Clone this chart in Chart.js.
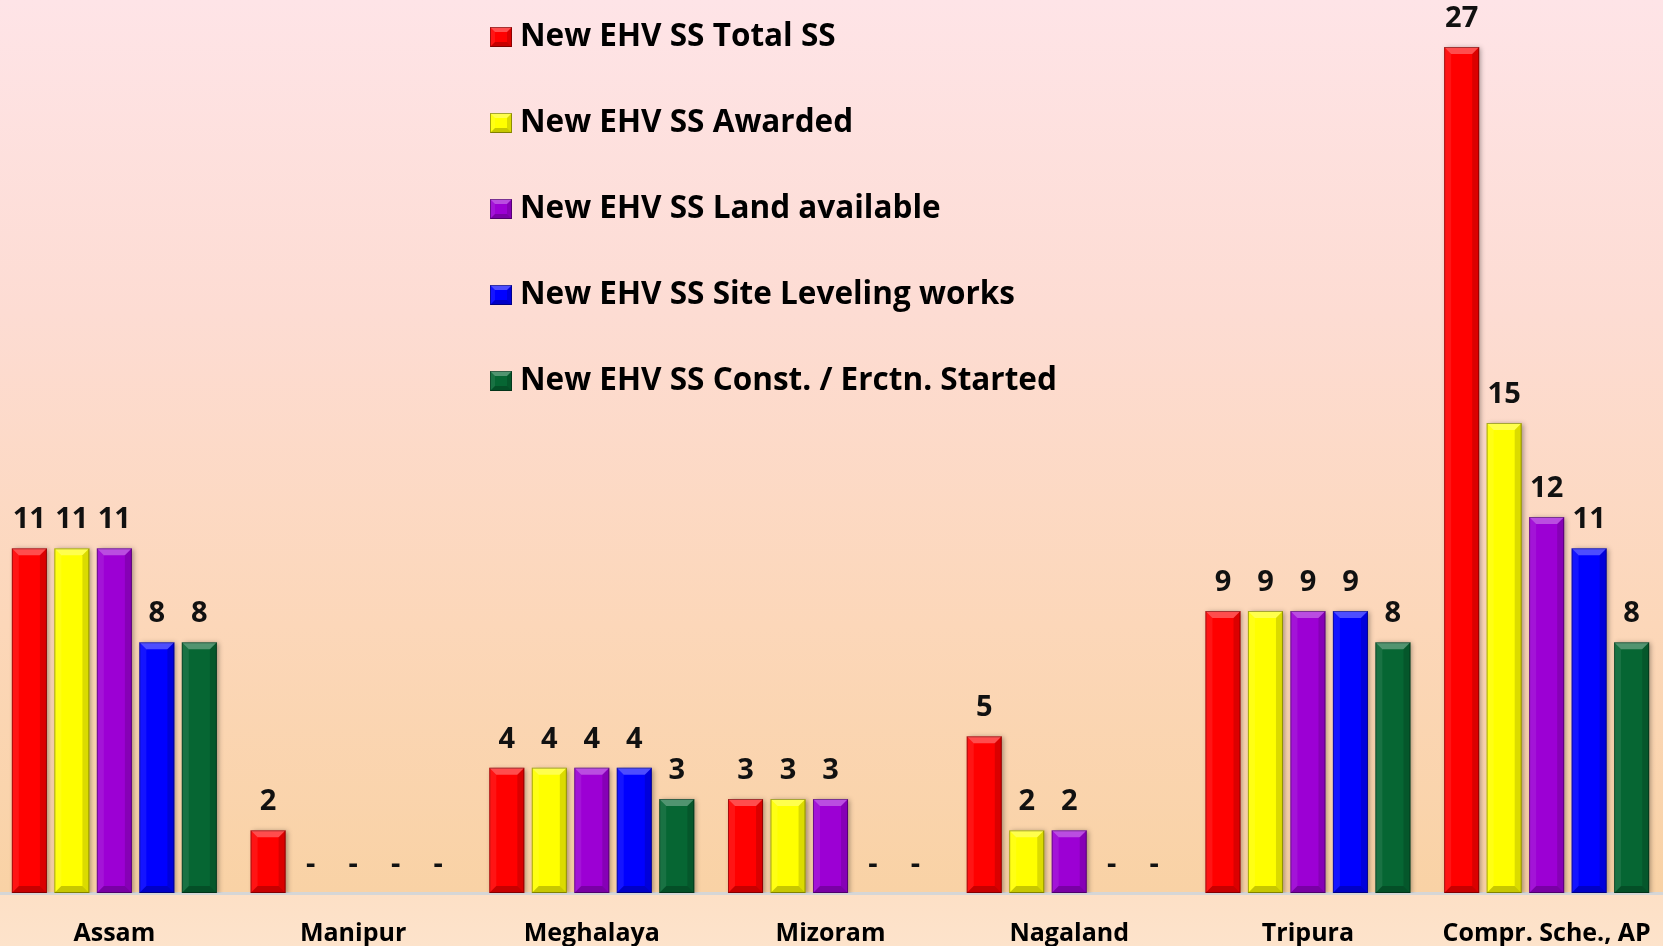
<!DOCTYPE html>
<html>
<head>
<meta charset="utf-8">
<script src="https://cdn.jsdelivr.net/npm/chart.js@4.4.1/dist/chart.umd.min.js"></script>
<style>
  html, body { margin: 0; padding: 0; }
  #wrap {
    width: 1663px; height: 946px; position: relative; overflow: hidden;
    background: linear-gradient(to bottom, #fee4e7 0%, #fddcd3 33%, #fcd7b9 66%, #f9d2a5 94.3%, #fde0c6 94.5%, #fde3cb 100%);
  }
  #inner { position: absolute; left: -5px; top: 0; width: 1671px; height: 946px; }
</style>
</head>
<body>
<div id="wrap"><div id="inner"><canvas id="chart"></canvas></div></div>
<script>
const categories = ['Assam', 'Manipur', 'Meghalaya', 'Mizoram', 'Nagaland', 'Tripura', 'Compr. Sche., AP'];
const seriesNames = [
  'New EHV SS Total SS',
  'New EHV SS Awarded',
  'New EHV SS Land available',
  'New EHV SS Site Leveling works',
  'New EHV SS Const. / Erctn. Started'
];
const totalSS       = [11, 2, 4, 3, 5, 9, 27];
const awarded       = [11, 0, 4, 3, 2, 9, 15];
const landAvailable = [11, 0, 4, 3, 2, 9, 12];
const siteLeveling  = [8, 0, 4, 0, 0, 9, 11];
const constStarted  = [8, 0, 3, 0, 0, 8, 8];
const seriesColors  = ['#ff0000', '#ffff00', '#9c00d4', '#0000ff', '#066633'];

const seriesValues = [totalSS, awarded, landAvailable, siteLeveling, constStarted];
const FONT = "'Open Sans', Lato, sans-serif";

// draws a bevelled rectangle (top light, right/bottom dark)
function bevel(ctx, l, t, r, bt, size) {
  const b = Math.min(size, (bt - t) / 2, (r - l) / 2);
  ctx.save();
  ctx.fillStyle = 'rgba(255,255,255,0.30)';
  ctx.beginPath();
  ctx.moveTo(l, t); ctx.lineTo(r, t); ctx.lineTo(r - b, t + b); ctx.lineTo(l + b, t + b);
  ctx.closePath(); ctx.fill();
  ctx.fillStyle = 'rgba(255,255,255,0.08)';
  ctx.beginPath();
  ctx.moveTo(l, t); ctx.lineTo(l + b, t + b); ctx.lineTo(l + b, bt - b); ctx.lineTo(l, bt);
  ctx.closePath(); ctx.fill();
  ctx.fillStyle = 'rgba(0,0,0,0.14)';
  ctx.beginPath();
  ctx.moveTo(r, t); ctx.lineTo(r, bt); ctx.lineTo(r - b, bt - b); ctx.lineTo(r - b, t + b);
  ctx.closePath(); ctx.fill();
  ctx.fillStyle = 'rgba(0,0,0,0.22)';
  ctx.beginPath();
  ctx.moveTo(l, bt); ctx.lineTo(r, bt); ctx.lineTo(r - b, bt - b); ctx.lineTo(l + b, bt - b);
  ctx.closePath(); ctx.fill();
  ctx.strokeStyle = 'rgba(0,0,0,0.35)';
  ctx.lineWidth = 1;
  ctx.strokeRect(l + 0.5, t + 0.5, r - l - 1, bt - t - 1);
  ctx.restore();
}

const barStyle = {
  id: 'barStyle',
  beforeDatasetsDraw(chart) {
    const ctx = chart.ctx;
    ctx.save();
    ctx.shadowColor = 'rgba(0,0,0,0.35)';
    ctx.shadowBlur = 5;
    ctx.shadowOffsetX = 2;
    ctx.shadowOffsetY = 1;
  },
  afterDatasetsDraw(chart) {
    const ctx = chart.ctx;
    ctx.restore();
    chart.data.datasets.forEach((ds, i) => {
      const meta = chart.getDatasetMeta(i);
      meta.data.forEach((bar, j) => {
        const v = ds.data[j];
        const p = bar.getProps(['x', 'y', 'base', 'width'], true);
        if (v > 0) {
          bevel(ctx, p.x - p.width / 2, p.y, p.x + p.width / 2, p.base, 7);
        }
        // value labels, zero shown as a dash
        ctx.save();
        ctx.fillStyle = '#111';
        ctx.font = 'bold 29px ' + FONT;
        ctx.textAlign = 'center';
        ctx.textBaseline = 'alphabetic';
        ctx.fillText(v > 0 ? String(v) : '-', p.x, p.y - 20);
        ctx.restore();
      });
    });
  }
};

const boxLegend = {
  id: 'boxLegend',
  afterDraw(chart) {
    const ctx = chart.ctx;
    chart.data.datasets.forEach((ds, i) => {
      const y = 27 + i * 86;
      const x = 495;
      ctx.save();
      ctx.fillStyle = ds.backgroundColor;
      ctx.fillRect(x, y, 22, 20);
      ctx.restore();
      bevel(ctx, x, y, x + 22, y + 20, 5);
      ctx.save();
      ctx.fillStyle = '#000';
      ctx.font = 'bold 31.5px ' + FONT;
      ctx.textBaseline = 'alphabetic';
      ctx.fillText(ds.label, x + 30, y + 19);
      ctx.restore();
    });
  }
};

new Chart(document.getElementById('chart'), {
  type: 'bar',
  data: {
    labels: categories,
    datasets: seriesNames.map((name, i) => ({
      label: name,
      data: seriesValues[i],
      backgroundColor: seriesColors[i],
      borderWidth: 0,
      categoryPercentage: 0.89,
      barPercentage: 0.825
    }))
  },
  options: {
    responsive: true,
    maintainAspectRatio: false,
    animation: false,
    layout: { padding: 0 },
    plugins: {
      legend: { display: false },
      tooltip: { enabled: false }
    },
    scales: {
      y: { display: false, min: 0, max: 28.5 },
      x: {
        grid: { display: false, drawTicks: false },
        border: { display: true, color: '#d6d6d6', width: 3 },
        ticks: {
          color: '#000',
          font: { family: FONT, weight: 'bold', size: 25 },
          padding: 26,
          maxRotation: 0,
          autoSkip: false
        },
        afterFit(scale) {
          scale.height = 53;
          // labels may run past the edges, keep the full width for the bars
          scale.paddingLeft = 0;
          scale.paddingRight = 0;
        }
      }
    }
  },
  plugins: [barStyle, boxLegend]
});
</script>
</body>
</html>
